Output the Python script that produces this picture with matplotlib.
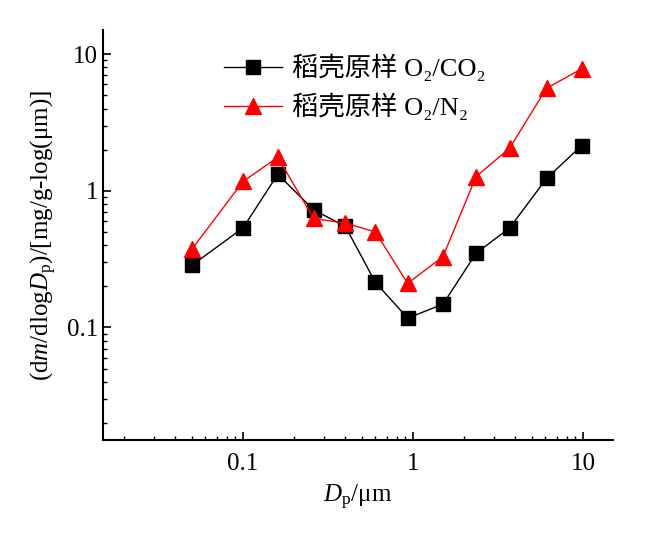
import numpy as np
import matplotlib
matplotlib.use('Agg')
import matplotlib.pyplot as plt
from matplotlib.ticker import FuncFormatter, LogLocator

plt.rcParams['font.family'] = ['Liberation Serif', 'DejaVu Serif', 'Noto Sans CJK SC']
plt.rcParams['mathtext.fontset'] = 'custom'
plt.rcParams['mathtext.rm'] = 'Liberation Serif'
plt.rcParams['mathtext.it'] = 'Liberation Serif:italic'
plt.rcParams['mathtext.bf'] = 'Liberation Serif:bold'

# 粒径 (μm)
dp = [0.05, 0.10, 0.16, 0.26, 0.40, 0.60, 0.93, 1.50, 2.35, 3.70, 6.10, 9.80]
# dm/dlogDp
co2 = [0.285, 0.535, 1.32, 0.726, 0.548, 0.214, 0.117, 0.148, 0.349, 0.535, 1.23, 2.14]
n2 = [0.374, 1.17, 1.76, 0.627, 0.58, 0.50, 0.21, 0.33, 1.27, 2.05, 5.63, 7.8]

labels = ['稻壳原样 O₂/CO₂', '稻壳原样 O₂/N₂']

fig = plt.figure(figsize=(6.5, 5.37), dpi=100)
ax = fig.add_axes([0.1585, 0.1806, 0.7845, 0.7634])

ax.plot(dp, co2, color='black', lw=1, marker='s', ms=10, label=labels[0])
ax.plot(dp, n2, color='red', lw=1, marker='^', ms=11, label=labels[1])

ax.set_xscale('log')
ax.set_yscale('log')
ax.set_xlim(0.015, 15)
ax.set_ylim(0.015, 15)

fmt = FuncFormatter(lambda v, p: f'{v:g}')
ax.xaxis.set_major_formatter(fmt)
ax.yaxis.set_major_formatter(fmt)
ax.xaxis.set_minor_locator(LogLocator(base=10, subs=np.arange(2, 10)))
ax.yaxis.set_minor_locator(LogLocator(base=10, subs=np.arange(2, 10)))
ax.xaxis.set_minor_formatter(plt.NullFormatter())
ax.yaxis.set_minor_formatter(plt.NullFormatter())

ax.spines['top'].set_visible(False)
ax.spines['right'].set_visible(False)
for s in ['left', 'bottom']:
    ax.spines[s].set_linewidth(1.5)
ax.tick_params(which='major', direction='in', length=6, width=1.2, labelsize=18)
ax.tick_params(axis='x', which='major', pad=9)
ax.tick_params(which='minor', direction='in', length=3, width=1)

ax.set_xlabel(r'$D_{\rm p}$/μm', fontsize=18, labelpad=6)
ax.set_ylabel(r'(d$m$/dlog$D_{\rm p}$)/[mg/g-log(μm)]', fontsize=18, labelpad=6)

ax.legend(loc='upper left', bbox_to_anchor=(0.19, 1.0), frameon=False,
          fontsize=19, handlelength=2.2, handletextpad=0.4, labelspacing=0.45)

fig.savefig('out.png', dpi=100)
